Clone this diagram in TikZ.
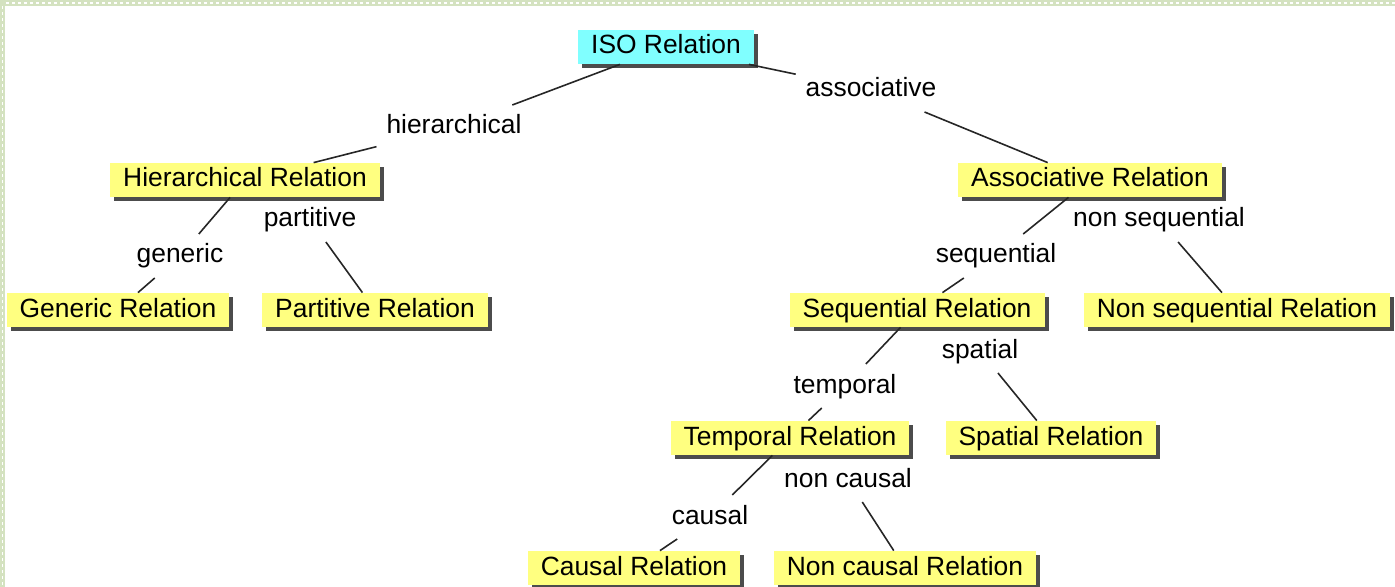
\documentclass[tikz,border=0pt]{standalone}
\usepackage{fontspec}
\setmainfont{Liberation Sans}
\usetikzlibrary{shadows}
\definecolor{relyellow}{RGB}{255,255,128}
\definecolor{relcyan}{RGB}{128,255,255}
\definecolor{framegreen}{RGB}{212,226,192}

\begin{document}
\begin{tikzpicture}[x=0.5pt, y=-0.5pt, font=\fontsize{13.2}{15}\selectfont,
	rel/.style={fill=relyellow, inner xsep=6.5pt, inner ysep=0pt, minimum height=17pt,
		text height=9.5pt, text depth=2.5pt,
		drop shadow={shadow xshift=2pt, shadow yshift=-2pt, fill=black!70, opacity=1}},
	root/.style={rel, fill=relcyan},
	kind/.style={inner sep=1pt, outer sep=4pt, text height=9.5pt, text depth=2.5pt},
	link/.style={draw=black!85, line width=0.8pt}]
	\useasboundingbox (0,0) rectangle (1395,587);
	
	% Frame
	\fill[framegreen] (0,0) rectangle (1395,6);
	\fill[framegreen] (0,0) rectangle (5,587);
	\draw[white, line width=0.6pt, dash pattern=on 1.5pt off 1.5pt] (6,3) -- (1395,3);
	\draw[white, line width=0.6pt, dash pattern=on 1.5pt off 1.5pt] (2.5,6) -- (2.5,587);
	
	% Relations
	\node[root] (ISO) at (666,47) {ISO Relation};
	\node[rel] (Hier) at (245,180) {Hierarchical Relation};
	\node[rel] (Assoc) at (1090,180) {Associative Relation};
	\node[rel] (Generic) at (118,310) {Generic Relation};
	\node[rel] (Partitive) at (375,310) {Partitive Relation};
	\node[rel] (Sequential) at (917,310) {Sequential Relation};
	\node[rel] (NonSeq) at (1237,310) {Non sequential Relation};
	\node[rel] (Temporal) at (790,438) {Temporal Relation};
	\node[rel] (Spatial) at (1051,438) {Spatial Relation};
	\node[rel] (Causal) at (634,568) {Causal Relation};
	\node[rel] (NonCausal) at (905,568) {Non causal Relation};
	
	% Kinds
	\node[kind] (hier) at (454,127) {hierarchical};
	\node[kind] (assoc) at (871,90) {associative};
	\node[kind] (partitive) at (310,220) {partitive};
	\node[kind] (generic) at (180,256) {generic};
	\node[kind] (nonseq) at (1159,220) {non sequential};
	\node[kind] (sequential) at (996,256) {sequential};
	\node[kind] (spatial) at (980,351) {spatial};
	\node[kind] (temporal) at (845,386) {temporal};
	\node[kind] (noncausal) at (848,480) {non causal};
	\node[kind] (causal) at (710,517) {causal};
	
	% Links
	\path[link]
	(ISO) edge (hier)
	edge (assoc)
	(hier) edge (Hier)
	(assoc) edge (Assoc)
	(Hier) edge (generic)
	(generic) edge (Generic)
	(partitive) edge (Partitive)
	(Assoc) edge (sequential)
	(sequential) edge (Sequential)
	(nonseq) edge (NonSeq)
	(Sequential) edge (temporal)
	(temporal) edge (Temporal)
	(spatial) edge (Spatial)
	(Temporal) edge (causal)
	(causal) edge (Causal)
	(noncausal) edge (NonCausal)
	;
\end{tikzpicture}
\end{document}
